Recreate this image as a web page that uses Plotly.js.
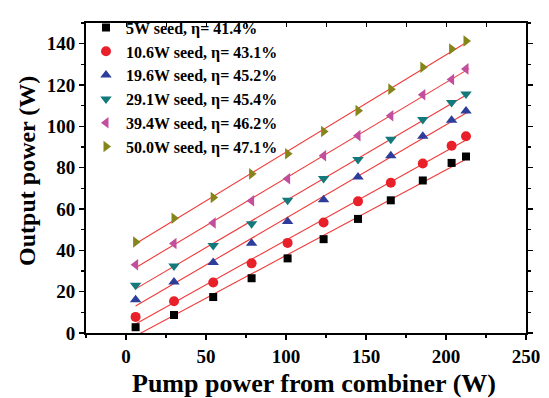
<!DOCTYPE html>
<html>
<head>
<meta charset="utf-8">
<script src="https://cdn.plot.ly/plotly-3.0.1.min.js"></script>
<style>
  html, body { margin: 0; padding: 0; background: #fff; }
  #chart { width: 549px; height: 398px; }
</style>
</head>
<body>
<div id="chart"></div>
<script>
// Pump power delivered from the combiner (W)
const pumpPower = [6, 30, 54.5, 78.5, 101, 123.5, 145, 165.5, 185.5, 203.5, 212.5];

// Output power (W) for each seed power level
const seedLabels = ["5W seed", "10.6W seed", "19.6W seed", "29.1W seed", "39.4W seed", "50.0W seed"];
const slopeEff = [41.4, 43.1, 45.2, 45.4, 46.2, 47.1]; // slope efficiency, %
const out5W   = [2.8, 8.7, 17.4, 26.5, 36.1, 45.4, 55.2, 64.2, 73.8, 82.3, 85.4];
const out10W  = [7.8, 15.4, 24.4, 33.7, 43.6, 53.5, 63.7, 72.7, 82.0, 90.6, 95.2];
const out19W  = [16.1, 24.7, 34.1, 43.4, 54.0, 64.5, 75.5, 85.8, 95.2, 103.0, 107.4];
const out29W  = [23.1, 32.4, 42.3, 52.9, 64.2, 74.7, 83.9, 93.7, 103.3, 111.5, 115.7];
const out39W  = [33.0, 43.3, 53.2, 64.0, 74.6, 85.8, 95.5, 105.1, 115.3, 122.7, 127.8];
const out50W  = [44.0, 55.5, 65.6, 77.0, 86.7, 97.5, 107.6, 118.0, 128.6, 137.4, 141.3];

const xTitle = "Pump power from combiner (W)";
const yTitle = "Output power (W)";

const outputs = [out5W, out10W, out19W, out29W, out39W, out50W];
const symbols = ["square", "circle", "triangle-up", "triangle-down", "triangle-left", "triangle-right"];
const colors  = ["#000000", "#e8202a", "#2c3d9a", "#13797a", "#c24e9e", "#85851a"];
const sizes   = [8, 10, 10, 10, 10, 10];

const FONT = "Liberation Serif";
const traces = [];

// Linear fit for each series: slope fixed by the stated efficiency,
// intercept by least squares through the measured points.
outputs.forEach((ys, i) => {
  const k = slopeEff[i] / 100;
  const mx = pumpPower.reduce((a, b) => a + b, 0) / pumpPower.length;
  const my = ys.reduce((a, b) => a + b, 0) / ys.length;
  const b = my - k * mx;
  const x0 = pumpPower[0], x1 = pumpPower[pumpPower.length - 1] + 2;
  traces.push({
    x: [x0, x1], y: [k * x0 + b, k * x1 + b],
    mode: "lines", line: { color: "#f03a3a", width: 1.1 },
    showlegend: false, hoverinfo: "skip", cliponaxis: true
  });
});

outputs.forEach((ys, i) => {
  traces.push({
    x: pumpPower, y: ys,
    mode: "markers", type: "scatter",
    name: "<b>" + seedLabels[i] + ", \u03B7= " + slopeEff[i].toFixed(1) + "%</b>",
    marker: { symbol: symbols[i], color: colors[i], size: sizes[i], line: { width: 0 } }
  });
});

// invisible trace carrying the top axis
traces.push({ x: [0], y: [0], xaxis: "x2", yaxis: "y", mode: "markers",
  marker: { opacity: 0 }, showlegend: false, hoverinfo: "skip" });

const layout = {
  width: 549, height: 398,
  margin: { l: 86, r: 23, t: 11, b: 65 },
  paper_bgcolor: "#fff", plot_bgcolor: "#fff",
  font: { family: FONT, color: "#000" },
  showlegend: true,
  legend: {
    x: 0.0, y: 1.04, xanchor: "left", yanchor: "top",
    bgcolor: "rgba(0,0,0,0)", borderwidth: 0,
    font: { family: FONT, size: 16, color: "#000" },
    itemwidth: 30, tracegroupgap: 0
  },
  xaxis: {
    range: [-25, 250], dtick: 50, tick0: 0,
    showgrid: false, zeroline: false,
    showline: true, linecolor: "#000", linewidth: 2,
    ticks: "outside", ticklen: 5, tickwidth: 1.5, tickcolor: "#000",
    minor: { dtick: 25, ticks: "outside", ticklen: 3, tickwidth: 1.5, tickcolor: "#000" },
    tickfont: { family: FONT, size: 19, color: "#000", weight: "bold" }
  },
  xaxis2: {
    overlaying: "x", side: "top", matches: "x", range: [-25, 250],
    dtick: 25, tick0: 0, showticklabels: false, showgrid: false, zeroline: false,
    showline: true, linecolor: "#000", linewidth: 2,
    ticks: "inside", ticklen: 4, tickwidth: 1, tickcolor: "#000"
  },
  yaxis: {
    range: [0, 150], dtick: 20, tick0: 0,
    showgrid: false, zeroline: false,
    showline: true, linecolor: "#000", linewidth: 2, mirror: "ticks",
    ticks: "outside", ticklen: 5, tickwidth: 1.5, tickcolor: "#000",
    minor: { dtick: 10, ticks: "outside", ticklen: 3, tickwidth: 1.5, tickcolor: "#000" },
    tickfont: { family: FONT, size: 19, color: "#000", weight: "bold" }
  },
  annotations: [
    { text: "<b>" + xTitle + "</b>", xref: "paper", yref: "paper", x: 0.518, y: -0.163,
      xanchor: "center", yanchor: "middle", showarrow: false,
      font: { family: FONT, size: 26, color: "#000" } },
    { text: "<b>" + yTitle + "</b>", xref: "paper", yref: "paper", x: -0.134, y: 0.523,
      xanchor: "center", yanchor: "middle", showarrow: false, textangle: -90,
      font: { family: FONT, size: 24, color: "#000" } }
  ]
};

Plotly.newPlot("chart", traces, layout, { displayModeBar: false, staticPlot: true });
</script>
</body>
</html>
